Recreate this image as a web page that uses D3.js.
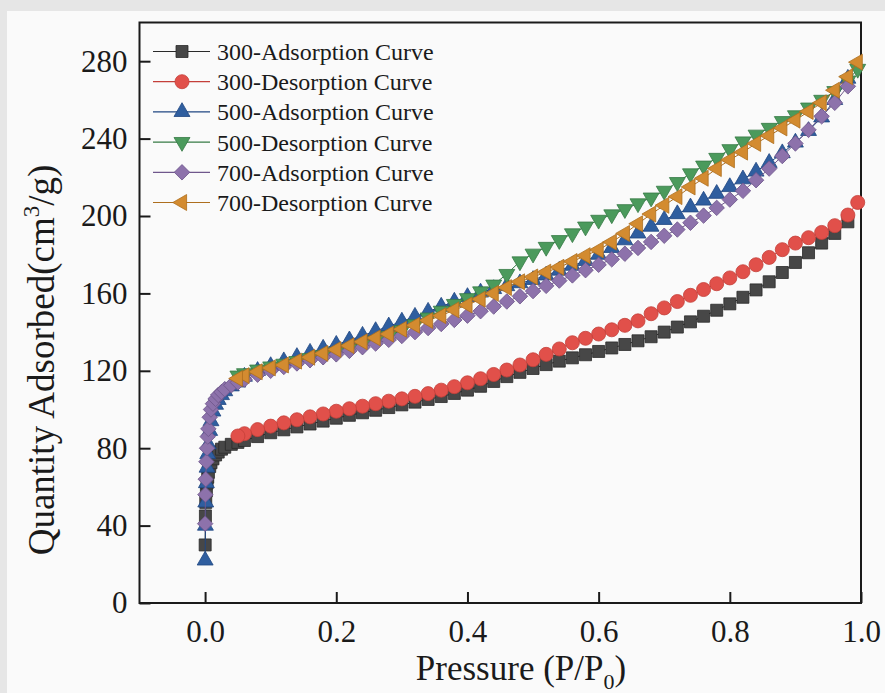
<!DOCTYPE html>
<html>
<head>
	<meta charset="utf-8">
	<title>isotherm</title>
	<style type="text/css">
		body { margin: 0; background: #fafafa; }
		text { font-family: "Liberation Serif", "Times New Roman", serif; fill: #1a1a1a; }
	</style>
</head>
<body>
<script type="text/javascript" src="https://cdn.jsdelivr.net/npm/d3@7/dist/d3.min.js"></script>
<script type="text/javascript">
	/*========= DATA =========*/
	// relative pressure points (adsorption branch / desorption branch)
	var adsP = [0.0001, 0.0005, 0.001, 0.002, 0.003, 0.004, 0.005, 0.007, 0.009, 0.012, 0.016, 0.02, 0.025, 0.03, 0.04, 0.05,
		0.06, 0.08, 0.10, 0.12, 0.14, 0.16, 0.18, 0.20, 0.22, 0.24, 0.26, 0.28, 0.30, 0.32, 0.34, 0.36, 0.38, 0.40,
		0.42, 0.44, 0.46, 0.48, 0.50, 0.52, 0.54, 0.56, 0.58, 0.60, 0.62, 0.64, 0.66, 0.68, 0.70, 0.72, 0.74, 0.76,
		0.78, 0.80, 0.82, 0.84, 0.86, 0.88, 0.90, 0.92, 0.94, 0.96, 0.98];
	var desP = [0.995, 0.98, 0.96, 0.94, 0.92, 0.90, 0.88, 0.86, 0.84, 0.82, 0.80, 0.78, 0.76, 0.74, 0.72, 0.70,
		0.68, 0.66, 0.64, 0.62, 0.60, 0.58, 0.56, 0.54, 0.52, 0.50, 0.48, 0.46, 0.44, 0.42, 0.40, 0.38, 0.36, 0.34,
		0.32, 0.30, 0.28, 0.26, 0.24, 0.22, 0.20, 0.18, 0.16, 0.14, 0.12, 0.10, 0.08, 0.06, 0.05];

	var ads300 = [30, 45, 52, 58, 62, 65, 67.5, 70.5, 72.5, 74.5, 76.5, 78, 79.5, 80.5, 82, 83,
		84, 86, 88, 89.5, 91, 92.5, 94, 95.5, 97, 98.3, 99.6, 101, 102.4, 103.8, 105.2, 106.7, 108.3, 110,
		112, 114.5, 117, 119.2, 121.2, 123.2, 125, 126.7, 128.3, 130, 131.8, 133.6, 135.5, 137.6, 140, 142.6, 145.3, 148.2,
		151.3, 154.6, 158, 161.8, 166, 170.8, 176, 181, 186, 191, 197];
	var des300 = [207, 200.5, 195, 191.5, 188.8, 186, 182.6, 178.6, 174.8, 171.2, 168, 165, 162, 159, 155.8, 152.5,
		149.5, 145.8, 143.5, 141.2, 139, 136.8, 134.5, 131.3, 128.5, 125.7, 123, 120.4, 118.1, 115.9, 113.8, 111.8, 110, 108.2,
		106.8, 105.5, 104.3, 103, 101.7, 100.4, 99.1, 97.7, 96.2, 94.7, 93.1, 91.4, 89.6, 87.5, 86.3];
	var ads500 = [22, 40, 52, 62, 70, 77, 82, 89, 94, 99, 102.5, 105, 107.5, 109.5, 112, 114,
		117, 120, 122.5, 125, 127.2, 129.4, 131.5, 133.5, 135.8, 138.2, 140.6, 143, 145.5, 148, 150.6, 153.2, 155.8, 158.2,
		160.5, 162.3, 163.8, 165.3, 167, 169.3, 171.8, 174.3, 176.8, 180, 183.5, 187.5, 191, 194.5, 198, 201, 204.5, 208,
		211.5, 215, 219, 223, 227.5, 232.5, 238, 244, 251, 260, 271];
	var des500 = [276, 270, 264.5, 260, 256, 252, 249, 245.5, 242, 238.5, 234.5, 230, 226, 222, 217.5, 213,
		209.5, 206.5, 203.5, 200.8, 198, 194.5, 191, 187.5, 184, 180.5, 176.5, 170, 164.5, 161, 157.5, 154.5, 151, 147.5,
		144, 141, 138, 135.5, 133.3, 131.3, 129.5, 128, 126.5, 125, 123.6, 122.2, 120.6, 118.7, 117.5];
	var ads700 = [41, 56, 64, 73, 80, 86, 90, 96, 100, 103, 105.5, 107.5, 109, 110.5, 112.5, 114,
		115.5, 118, 120, 122, 123.8, 125.5, 127, 128.5, 130.3, 132.2, 134.1, 136, 138, 140, 142.1, 144.2, 146.3, 148.5,
		150.8, 153.2, 155.8, 158.5, 161.2, 163.9, 166.6, 169.3, 172, 174.8, 177.6, 180.5, 183.5, 186.6, 189.8, 193, 196.5, 200.2,
		204.2, 208.5, 213, 218.5, 224.5, 231, 237.5, 244.5, 251.5, 258.5, 267];
	var des700 = [279.5, 272, 265, 258.5, 254, 249.5, 245.5, 241.5, 237.5, 233, 229, 224.5, 219.5, 215, 210, 205.5,
		201, 196, 191, 186.5, 182.5, 179.5, 176.5, 173.5, 171, 168.5, 166, 163, 160, 157, 154, 151.5, 148.5, 146,
		143.5, 141.5, 139, 137, 135, 133, 131, 129, 127, 125, 123, 121.5, 119.5, 117.5, 116];

	var seriesNames = ["300-Adsorption Curve", "300-Desorption Curve", "500-Adsorption Curve",
		"500-Desorption Curve", "700-Adsorption Curve", "700-Desorption Curve"];
	var xTicks = [0.0, 0.2, 0.4, 0.6, 0.8, 1.0];
	var yTicks = [0, 40, 80, 120, 160, 200, 240, 280];

	/*========= STYLE =========*/
	var fills = ["#474747", "#e1504a", "#2f5e9f", "#4b9a5c", "#8d72ab", "#d38b30"];
	var strokes = ["#2a2a2a", "#c43f39", "#1f4682", "#367a45", "#6f578c", "#ad6e1e"];
	var shapes = [
		{type: d3.symbolSquare, size: 144, rot: 0},
		{type: d3.symbolCircle, size: 155, rot: 0},
		{type: d3.symbolTriangle, size: 110, rot: 0},
		{type: d3.symbolTriangle, size: 110, rot: 180},
		{type: d3.symbolSquare, size: 120, rot: 45},
		{type: d3.symbolTriangle, size: 110, rot: -90}
	];

	var series = [
		{p: adsP, v: ads300}, {p: desP, v: des300},
		{p: adsP, v: ads500}, {p: desP, v: des500},
		{p: adsP, v: ads700}, {p: desP, v: des700}
	];

	/*========= SVG =========*/
	var W = 885, H = 693;
	var svg = d3.select("body").append("svg").attr("width", W).attr("height", H);

	// grey margins of the scanned picture
	svg.append("rect").attr("width", W).attr("height", 11).attr("fill", "#e6e6e6");
	svg.append("rect").attr("width", 7).attr("height", H).attr("fill", "#e6e6e6");

	var plotL = 139.5, plotR = 861, plotT = 22.5, plotB = 603;
	var x = d3.scaleLinear().domain([-0.1, 1.0]).range([plotL, plotR]);
	var y = d3.scaleLinear().domain([0, 300]).range([plotB, plotT]);

	// axes (ticks inside)
	var gx = svg.append("g").attr("transform", "translate(0," + plotB + ")")
		.call(d3.axisBottom(x).tickValues(xTicks).tickFormat(d3.format(".1f")).tickSize(-11).tickPadding(17));
	var gy = svg.append("g").attr("transform", "translate(" + plotL + ",0)")
		.call(d3.axisLeft(y).tickValues(yTicks).tickSize(-11).tickPadding(12));
	[gx, gy].forEach(function(g) {
		g.select(".domain").remove();
		g.selectAll(".tick line").attr("stroke", "#1a1a1a").attr("stroke-width", 2);
		g.selectAll(".tick text").attr("font-size", 31).attr("font-family", "Liberation Serif").attr("fill", "#1a1a1a");
	});

	// frame
	svg.append("rect").attr("x", plotL).attr("y", plotT)
		.attr("width", plotR - plotL).attr("height", plotB - plotT)
		.attr("fill", "none").attr("stroke", "#1a1a1a").attr("stroke-width", 2);

	/*========= CURVES =========*/
	var line = d3.line().x(function(d) { return x(d[0]); }).y(function(d) { return y(d[1]); });

	series.forEach(function(s, i) {
		var pts = s.p.map(function(p, j) { return [p, s.v[j]]; });
		var g = svg.append("g");
		g.append("path").datum(pts).attr("d", line)
			.attr("fill", "none").attr("stroke", strokes[i]).attr("stroke-width", 1);
		var sym = d3.symbol().type(shapes[i].type).size(shapes[i].size);
		g.selectAll("path.m").data(pts).enter().append("path")
			.attr("class", "m")
			.attr("d", sym)
			.attr("transform", function(d) {
				return "translate(" + x(d[0]) + "," + y(d[1]) + ") rotate(" + shapes[i].rot + ")";
			})
			.attr("fill", fills[i]).attr("stroke", strokes[i]).attr("stroke-width", 0.8);
	});

	/*========= LEGEND =========*/
	var legend = svg.append("g");
	var rowY = [51.5, 81.7, 111.9, 142.1, 172.3, 202.5];
	seriesNames.forEach(function(name, i) {
		var r = legend.append("g").attr("transform", "translate(0," + rowY[i] + ")");
		r.append("line").attr("x1", 153).attr("x2", 210).attr("y1", 0).attr("y2", 0)
			.attr("stroke", strokes[i]).attr("stroke-width", 1.2);
		r.append("path").attr("d", d3.symbol().type(shapes[i].type).size(shapes[i].size)())
			.attr("transform", "translate(182,0) rotate(" + shapes[i].rot + ")")
			.attr("fill", fills[i]).attr("stroke", strokes[i]).attr("stroke-width", 0.8);
		r.append("text").attr("x", 217).attr("y", 0).attr("dy", "0.35em")
			.attr("font-size", 24).text(name);
	});

	/*========= TITLES =========*/
	var xt = svg.append("text").attr("x", 521).attr("y", 680)
		.attr("text-anchor", "middle").attr("font-size", 35);
	xt.append("tspan").text("Pressure (P/P");
	xt.append("tspan").attr("font-size", 22).attr("dy", 9).text("0");
	xt.append("tspan").attr("dy", -9).text(")");

	var yt = svg.append("text").attr("transform", "translate(54,360) rotate(-90)")
		.attr("text-anchor", "middle").attr("font-size", 37);
	yt.append("tspan").text("Quantity Adsorbed(cm");
	yt.append("tspan").attr("font-size", 23).attr("dy", -15).text("3");
	yt.append("tspan").attr("dy", 15).text("/g)");
</script>
</body>
</html>
